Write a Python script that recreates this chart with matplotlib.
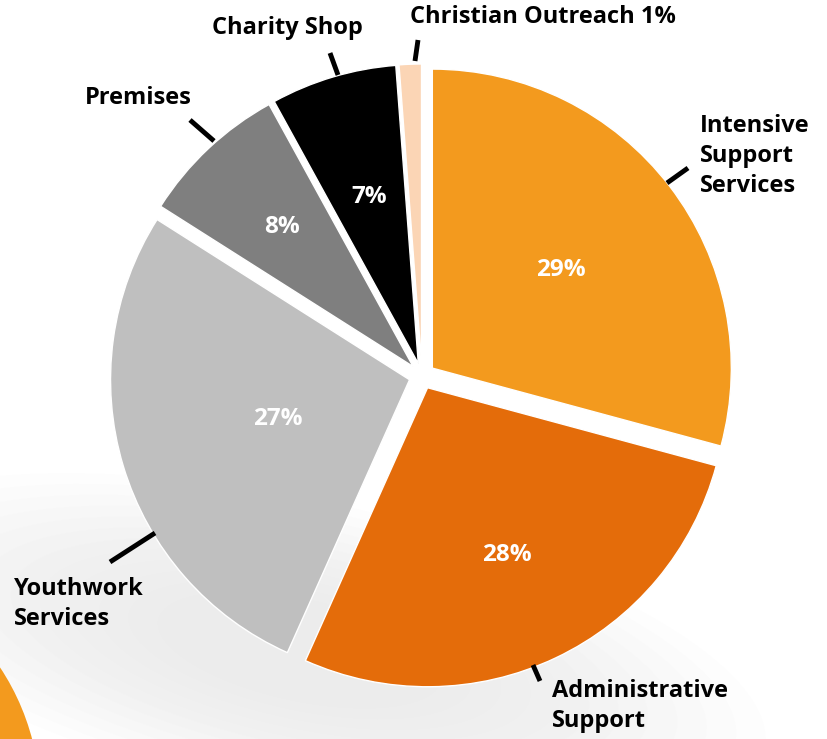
import matplotlib

matplotlib.use("Agg")
import matplotlib.pyplot as plt
import numpy as np
from matplotlib.patches import Circle, Ellipse

# Data (shares; labels as printed)
categories = [
    "Intensive Support Services",
    "Administrative Support",
    "Youthwork Services",
    "Premises",
    "Charity Shop",
    "Christian Outreach",
]
shares = [29.2, 27.5, 27.3, 8.0, 6.8, 1.2]
colors = ["#F39A1E", "#E46C0A", "#BFBFBF", "#7F7F7F", "#000000", "#FBD5B5"]
pct_labels = ["29%", "28%", "27%", "8%", "7%", ""]

W, H = 827, 739
FONT = ["Open Sans", "DejaVu Sans"]


def px(x, y):
    """Pixel (top-left origin) to data coords (y up)."""
    return x, H - y


fig = plt.figure(figsize=(W / 100, H / 100), dpi=100)
ax = fig.add_axes([0, 0, 1, 1])

# Soft background swoosh + orange disc in the corner
for i in range(12):
    ax.add_patch(
        Ellipse(px(300, 650), 950 - i * 60, 300 - i * 18, angle=-12,
                facecolor="#D8D8D8", edgecolor="none", alpha=0.04, zorder=0)
    )
ax.add_patch(Circle(px(-200, 800), 240, facecolor="#F39A1E",
                    edgecolor="none", zorder=1))

# Pie
R = 299
cx, cy = px(422, 376)
wedges, _ = ax.pie(
    shares,
    colors=colors,
    startangle=90,
    counterclock=False,
    radius=R,
    center=(cx, cy),
    explode=[13] * len(shares),
    wedgeprops=dict(edgecolor="white", linewidth=1),
    frame=True,
)
ax.set_xlim(0, W)
ax.set_ylim(0, H)
ax.set_aspect("equal")
ax.axis("off")

# Percentage labels inside wedges
pct_dist = [0.54, 0.62, 0.46, 0.64, 0.58, 0.6]
for w, lab, d in zip(wedges, pct_labels, pct_dist):
    if not lab:
        continue
    ang = np.deg2rad((w.theta1 + w.theta2) / 2)
    ox, oy = w.center
    ax.text(ox + d * R * np.cos(ang), oy + d * R * np.sin(ang), lab,
            color="white", fontsize=17.5, fontweight="bold", family=FONT,
            ha="center", va="center", zorder=5)

# Outside labels and leader lines
outside = [
    ("Intensive\nSupport\nServices", (700, 156), [(667, 183), (688, 168)]),
    ("Administrative\nSupport", (552, 706), [(533, 665), (540, 681)]),
    ("Youthwork\nServices", (14, 604), [(110, 562), (155, 533)]),
    ("Premises", (85, 98), [(190, 120), (214, 141)]),
    ("Charity Shop", (212, 28), [(330, 53), (338, 75)]),
    ("Christian Outreach 1%", (410, 17), [(418, 40), (415, 61)]),
]
for text, (tx, ty), line in outside:
    x, y = px(tx, ty)
    ax.text(x, y, text, fontsize=17, fontweight="bold", family=FONT,
            ha="left", va="center", linespacing=1.32, zorder=5)
    (x0, y0), (x1, y1) = line
    ax.plot([x0, x1], [H - y0, H - y1], color="black", lw=3.5,
            solid_capstyle="butt", zorder=5)

fig.savefig("out.png", dpi=100, facecolor="white")
